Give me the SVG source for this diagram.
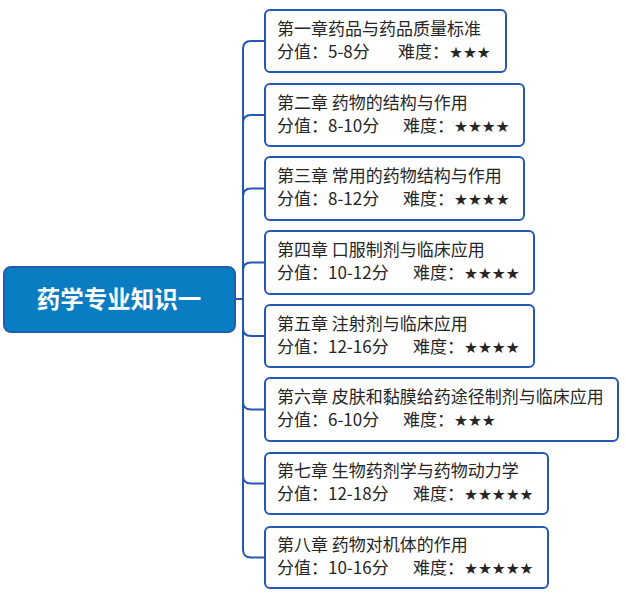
<svg xmlns="http://www.w3.org/2000/svg" width="626" height="598" viewBox="0 0 626 598">
<style>
.box{fill:#ffffff;stroke:#2458b3;stroke-width:2}
.root{fill:#0a7cc2;stroke:#1d5fae;stroke-width:2}
.t{font-family:"Microsoft YaHei","Noto Sans CJK SC",sans-serif;font-size:17px;fill:#262626}
.s{font-family:"DejaVu Sans",sans-serif;font-size:15.5px}
.rt{font-family:"Microsoft YaHei","Noto Sans CJK SC",sans-serif;font-size:23.5px;font-weight:bold;fill:#ffffff}
.c{fill:none;stroke:#2458b3;stroke-width:2}
</style>
<rect width="626" height="598" fill="#ffffff"/>
<g id="connectors">
<path class="c" d="M235,299 H243 V49 Q243,41 251,41 H265"/>
<path class="c" d="M243,123 Q243,115 251,115 H265"/>
<path class="c" d="M243,196.5 Q243,188.5 251,188.5 H265"/>
<path class="c" d="M243,270.5 Q243,262.5 251,262.5 H265"/>
<path class="c" d="M243,299 V549.5 Q243,557.5 251,557.5 H265"/>
<path class="c" d="M243,328 Q243,336 251,336 H265"/>
<path class="c" d="M243,401.5 Q243,409.5 251,409.5 H265"/>
<path class="c" d="M243,475.5 Q243,483.5 251,483.5 H265"/>
</g>
<g id="root">
<rect class="root" x="4" y="267" width="231" height="65" rx="7"/>
<text class="rt" x="119" y="308" text-anchor="middle">药学专业知识一</text>
</g>
<g id="ch1">
<rect class="box" x="265" y="10" width="241" height="62" rx="5"/>
<text class="t" x="277" y="35">第一章药品与药品质量标准</text>
<text class="t" x="277" y="58">分值：5-8分</text>
<text class="t" x="398" y="58">难度：<tspan class="s">★★★</tspan></text>
</g>
<g id="ch2">
<rect class="box" x="265" y="84" width="259" height="62" rx="5"/>
<text class="t" x="277" y="109">第二章 药物的结构与作用</text>
<text class="t" x="277" y="132">分值：8-10分</text>
<text class="t" x="403" y="132">难度：<tspan class="s">★★★★</tspan></text>
</g>
<g id="ch3">
<rect class="box" x="265" y="157" width="259" height="63" rx="5"/>
<text class="t" x="277" y="182">第三章 常用的药物结构与作用</text>
<text class="t" x="277" y="205">分值：8-12分</text>
<text class="t" x="403" y="205">难度：<tspan class="s">★★★★</tspan></text>
</g>
<g id="ch4">
<rect class="box" x="265" y="231" width="269" height="63" rx="5"/>
<text class="t" x="277" y="256">第四章 口服制剂与临床应用</text>
<text class="t" x="277" y="279">分值：10-12分</text>
<text class="t" x="413" y="279">难度：<tspan class="s">★★★★</tspan></text>
</g>
<g id="ch5">
<rect class="box" x="265" y="305" width="269" height="62" rx="5"/>
<text class="t" x="277" y="330">第五章 注射剂与临床应用</text>
<text class="t" x="277" y="353">分值：12-16分</text>
<text class="t" x="413" y="353">难度：<tspan class="s">★★★★</tspan></text>
</g>
<g id="ch6">
<rect class="box" x="265" y="378" width="353" height="63" rx="5"/>
<text class="t" x="277" y="403">第六章 皮肤和黏膜给药途径制剂与临床应用</text>
<text class="t" x="277" y="426">分值：6-10分</text>
<text class="t" x="403" y="426">难度：<tspan class="s">★★★</tspan></text>
</g>
<g id="ch7">
<rect class="box" x="265" y="453" width="283" height="61" rx="5"/>
<text class="t" x="277" y="477">第七章 生物药剂学与药物动力学</text>
<text class="t" x="277" y="500">分值：12-18分</text>
<text class="t" x="413" y="500">难度：<tspan class="s">★★★★★</tspan></text>
</g>
<g id="ch8">
<rect class="box" x="265" y="527" width="283" height="61" rx="5"/>
<text class="t" x="277" y="551">第八章 药物对机体的作用</text>
<text class="t" x="277" y="574">分值：10-16分</text>
<text class="t" x="413" y="574">难度：<tspan class="s">★★★★★</tspan></text>
</g>
</svg>
